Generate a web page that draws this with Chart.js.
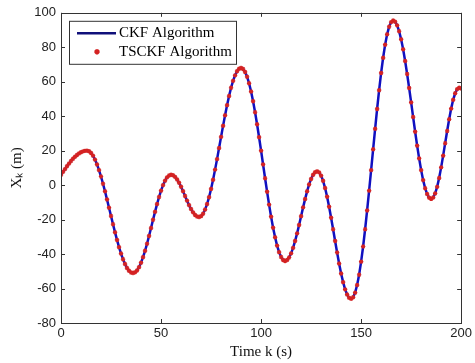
<!DOCTYPE html>
<html>
<head>
<meta charset="utf-8">
<script src="https://cdn.jsdelivr.net/npm/chart.js@4"></script>
<style>
  html, body { margin: 0; padding: 0; background: #fff; }
  #wrap { width: 475px; height: 363px; }
</style>
</head>
<body>
<div id="wrap"><canvas id="myChart" width="475" height="363"></canvas></div>
<script>
const timeSteps = Array.from({ length: 201 }, (_, k) => k);

// position X_k (m) at every time step k = 0..200
const ckfValues = [
    6, 7.7, 9.3, 11.0, 12.5, 14.0, 15.3, 16.5, 17.5, 18.4, 19.1, 19.6, 19.9, 20,
    19.7, 18.7, 17.1, 14.8, 12.0, 8.7, 5.0, 0.8, -3.6, -8.3, -13.1, -17.9, -22.7, -27.4, -31.8, -36.0, -39.7, -43.0, -45.8, -48.1, -49.7, -50.7, -51,
    -50.6, -49.5, -47.6, -45.0, -41.8, -38.1, -34.0, -29.5, -24.9, -20.1, -15.5, -11.0, -6.9, -3.2, 0.0, 2.6, 4.5, 5.6, 6,
    5.7, 4.8, 3.3, 1.4, -0.9, -3.5, -6.3, -9.0, -11.6, -13.9, -15.8, -17.3, -18.2, -18.5,
    -18.0, -16.6, -14.2, -11.0, -7.0, -2.2, 3.1, 9.0, 15.1, 21.5, 28.0, 34.4, 40.5, 46.4, 51.7, 56.5, 60.5, 63.7, 66.1, 67.5, 68,
    67.4, 65.7, 62.9, 59.1, 54.3, 48.7, 42.3, 35.3, 27.8, 20.0, 12.0, 4.0, -3.8, -11.3, -18.3, -24.7, -30.3, -35.1, -38.9, -41.7, -43.4, -44,
    -43.5, -42.0, -39.6, -36.4, -32.4, -28.0, -23.1, -18.0, -12.9, -8.1, -3.6, 0.4, 3.6, 6.0, 7.5, 8,
    7.4, 5.5, 2.5, -1.7, -6.7, -12.5, -18.9, -25.6, -32.4, -39.1, -45.5, -51.3, -56.3, -60.5, -63.5, -65.4, -66,
    -65.1, -62.4, -58.0, -52.0, -44.4, -35.6, -25.6, -14.7, -3.2, 8.7, 20.8, 32.7, 44.2, 55.1, 65.1, 73.9, 81.5, 87.5, 91.9, 94.6, 95.5,
    94.8, 92.7, 89.3, 84.6, 78.8, 72.0, 64.5, 56.4, 48.0, 39.5, 31.0, 22.9, 15.5, 8.7, 2.9, -1.8, -5.2, -7.3, -8,
    -7.2, -4.8, -1.0, 4.1, 10.3, 17.1, 24.3, 31.4, 38.2, 44.4, 49.5, 53.3, 55.7, 56.5, 56
];
// the two filters overlap everywhere at this scale
const tsckfValues = ckfValues.slice();

const xTicks = [0, 50, 100, 150, 200];
const yTicks = [-80, -60, -40, -20, 0, 20, 40, 60, 80, 100];

const serif = '"Liberation Serif", "Times New Roman", serif';
const sans = '"Liberation Sans", Arial, sans-serif';

// matlab style box with inward ticks
const framePlugin = {
    id: 'frame',
    afterDatasetsDraw(chart) {
        const { ctx, chartArea: a, scales } = chart;
        ctx.save();
        ctx.strokeStyle = '#333';
        ctx.lineWidth = 1;
        ctx.beginPath();
        xTicks.forEach(v => {
            const px = Math.round(scales.x.getPixelForValue(v)) + 0.5;
            ctx.moveTo(px, a.bottom); ctx.lineTo(px, a.bottom - 4);
            ctx.moveTo(px, a.top); ctx.lineTo(px, a.top + 4);
        });
        yTicks.forEach(v => {
            const py = Math.round(scales.y.getPixelForValue(v)) + 0.5;
            ctx.moveTo(a.left, py); ctx.lineTo(a.left + 4, py);
            ctx.moveTo(a.right, py); ctx.lineTo(a.right - 4, py);
        });
        ctx.stroke();
        ctx.strokeRect(Math.round(a.left) + 0.5, Math.round(a.top) + 0.5,
            Math.round(a.right - a.left), Math.round(a.bottom - a.top));
        ctx.restore();
    }
};

const legendPlugin = {
    id: 'boxLegend',
    afterDraw(chart) {
        const { ctx, chartArea: a } = chart;
        const ds = chart.data.datasets;
        const x0 = a.left + 8, y0 = a.top + 8;
        ctx.save();
        ctx.fillStyle = '#fff';
        ctx.fillRect(x0, y0, 167, 43);
        ctx.strokeStyle = '#333';
        ctx.lineWidth = 1;
        ctx.strokeRect(x0 + 0.5, y0 + 0.5, 167, 43);

        ctx.strokeStyle = '#10107a';
        ctx.lineWidth = 2.5;
        ctx.beginPath();
        ctx.moveTo(x0 + 8, y0 + 12.5);
        ctx.lineTo(x0 + 47, y0 + 12.5);
        ctx.stroke();

        ctx.strokeStyle = ds[1].pointBorderColor;
        ctx.fillStyle = ds[1].pointBackgroundColor;
        Chart.helpers.drawPoint(ctx, {
            pointStyle: 'star', radius: 2.6, borderWidth: 1.3
        }, x0 + 28, y0 + 31);

        ctx.fillStyle = '#000';
        ctx.font = '15px ' + serif;
        ctx.textBaseline = 'middle';
        ctx.fillText(ds[0].label, x0 + 50, y0 + 12);
        ctx.fillText(ds[1].label, x0 + 50, y0 + 31);
        ctx.restore();
    }
};

const ctx = document.getElementById('myChart').getContext('2d');
const myChart = new Chart(ctx, {
    type: 'line',
    data: {
        datasets: [{
            label: 'CKF Algorithm',
            data: timeSteps.map((k, i) => ({ x: k, y: ckfValues[i] })),
            borderColor: '#1010c0',
            borderWidth: 2.5,
            pointRadius: 0,
            tension: 0,
            order: 1
        }, {
            label: 'TSCKF Algorithm',
            data: timeSteps.map((k, i) => ({ x: k, y: tsckfValues[i] })),
            showLine: false,
            pointStyle: 'star',
            pointRadius: 2.2,
            pointBorderWidth: 1.2,
            pointBorderColor: '#d42222',
            pointBackgroundColor: '#d42222',
            order: 0
        }]
    },
    options: {
        responsive: false,
        animation: false,
        devicePixelRatio: 1,
        layout: { padding: { top: 12, right: 10, left: 0, bottom: 0 } },
        plugins: {
            legend: { display: false },
            tooltip: { enabled: false }
        },
        scales: {
            x: {
                type: 'linear',
                min: 0,
                max: 200,
                grid: { display: false, drawTicks: false, tickLength: 0 },
                border: { display: false },
                afterBuildTicks: s => { s.ticks = xTicks.map(v => ({ value: v })); },
                afterFit: s => { s.height = 40; },
                ticks: {
                    color: '#222',
                    font: { family: sans, size: 13 },
                    padding: 3,
                    maxRotation: 0
                },
                title: {
                    display: true,
                    text: 'Time k (s)',
                    color: '#111',
                    font: { family: serif, size: 15 },
                    padding: { top: 0, bottom: 2 }
                }
            },
            y: {
                min: -80,
                max: 100,
                grid: { display: false, drawTicks: false, tickLength: 0 },
                border: { display: false },
                afterBuildTicks: s => { s.ticks = yTicks.map(v => ({ value: v })); },
                afterFit: s => { s.width = 61; },
                ticks: {
                    color: '#222',
                    font: { family: sans, size: 13 },
                    padding: 5
                },
                title: {
                    display: true,
                    text: 'X\u2096 (m)',
                    color: '#111',
                    font: { family: serif, size: 15 },
                    padding: { top: 8, bottom: 0 }
                }
            }
        }
    },
    plugins: [framePlugin, legendPlugin]
});
</script>
</body>
</html>
